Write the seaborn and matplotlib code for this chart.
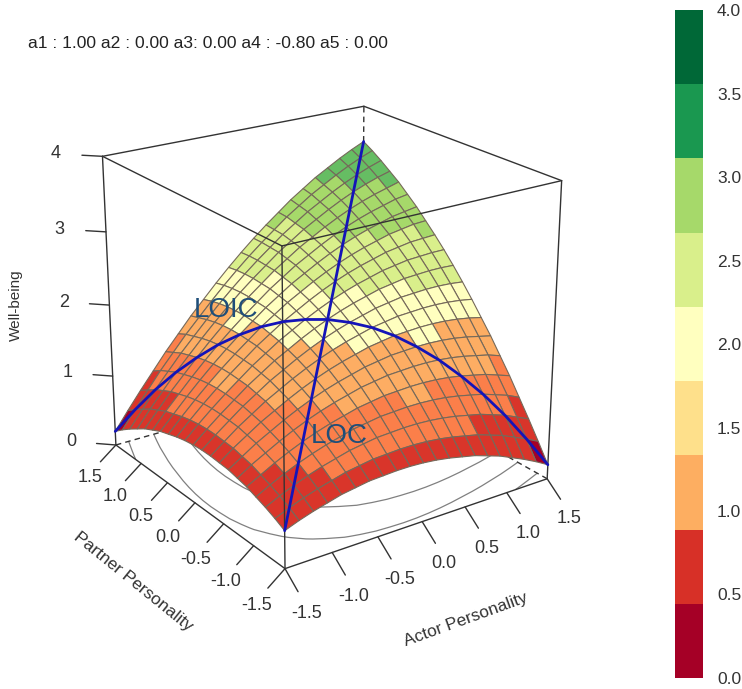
import numpy as np
import matplotlib
matplotlib.use("Agg")
import matplotlib.pyplot as plt
from matplotlib.colors import ListedColormap
from mpl_toolkits.mplot3d import proj3d
import seaborn as sns

# grid of the surface (upper triangle, the surface is symmetric)
grid_axis = [-1.5, -1.35, -1.2, -1.05, -0.9, -0.75, -0.6, -0.45, -0.3, -0.15, 0.0,
             0.15, 0.3, 0.45, 0.6, 0.75, 0.9, 1.05, 1.2, 1.35, 1.5]
surface_rows = [
    [.50, .57, .63, .68, .73, .76, .79, .80, .81, .81, .80, .78, .75, .71, .67, .61, .55, .47, .39, .30, .20],
    [.65, .72, .78, .83, .88, .91, .94, .95, .96, .96, .95, .93, .90, .86, .82, .76, .70, .62, .54, .45],
    [.80, .87, .93, .98, 1.03, 1.06, 1.09, 1.10, 1.11, 1.11, 1.10, 1.08, 1.05, 1.01, .97, .91, .85, .77, .69],
    [.95, 1.02, 1.08, 1.13, 1.18, 1.21, 1.24, 1.25, 1.26, 1.26, 1.25, 1.23, 1.20, 1.16, 1.12, 1.06, 1.00, .92],
    [1.10, 1.17, 1.23, 1.28, 1.33, 1.36, 1.39, 1.40, 1.41, 1.41, 1.40, 1.38, 1.35, 1.31, 1.27, 1.21, 1.15],
    [1.25, 1.32, 1.38, 1.43, 1.48, 1.51, 1.54, 1.55, 1.56, 1.56, 1.55, 1.53, 1.50, 1.46, 1.42, 1.36],
    [1.40, 1.47, 1.53, 1.58, 1.63, 1.66, 1.69, 1.70, 1.71, 1.71, 1.70, 1.68, 1.65, 1.61, 1.57],
    [1.55, 1.62, 1.68, 1.73, 1.78, 1.81, 1.84, 1.85, 1.86, 1.86, 1.85, 1.83, 1.80, 1.76],
    [1.70, 1.77, 1.83, 1.88, 1.93, 1.96, 1.99, 2.00, 2.01, 2.01, 2.00, 1.98, 1.95],
    [1.85, 1.92, 1.98, 2.03, 2.08, 2.11, 2.14, 2.15, 2.16, 2.16, 2.15, 2.13],
    [2.00, 2.07, 2.13, 2.18, 2.23, 2.26, 2.29, 2.30, 2.31, 2.31, 2.30],
    [2.15, 2.22, 2.28, 2.33, 2.38, 2.41, 2.44, 2.45, 2.46, 2.46],
    [2.30, 2.37, 2.43, 2.48, 2.53, 2.56, 2.59, 2.60, 2.61],
    [2.45, 2.52, 2.58, 2.63, 2.68, 2.71, 2.74, 2.75],
    [2.60, 2.67, 2.73, 2.78, 2.83, 2.86, 2.89],
    [2.75, 2.82, 2.88, 2.93, 2.98, 3.01],
    [2.90, 2.97, 3.03, 3.08, 3.13],
    [3.05, 3.12, 3.18, 3.23],
    [3.20, 3.27, 3.33],
    [3.35, 3.42],
    [3.50],
]

# colour bands
band_breaks = [0.0, 0.44, 0.89, 1.33, 1.78, 2.22, 2.67, 3.11, 3.56, 4.0]
surface_colors = ["#a50026", "#d9352a", "#fb7f4a", "#fdad63", "#ffffbf", "#d9ef8b", "#a6d96a", "#66bd63", "#1a9850"]
legend_colors = ["#a50026", "#d73027", "#fdae61", "#fee08b", "#ffffbf", "#d9ef8b", "#a6d96a", "#1a9850", "#006837"]
legend_ticks = [0.0, 0.5, 1.0, 1.5, 2.0, 2.5, 3.0, 3.5, 4.0]

xy_ticks = [-1.5, -1.0, -0.5, 0.0, 0.5, 1.0, 1.5]
z_ticks = [0, 1, 2, 3, 4]
title_text = "a1 : 1.00 a2 : 0.00 a3: 0.00 a4 : -0.80 a5 : 0.00"

sns.set_theme(style="white")
plt.rcParams["font.family"] = ["Liberation Sans", "DejaVu Sans"]
text_col = "#333333"
line_col = "#333333"
W, H = 742, 689

# build the table
Z = np.zeros((21, 21))
for j, row in enumerate(surface_rows):
    Z[j, j:] = row
    Z[j:, j] = row
axis_vals = np.array(grid_axis)
X, Y = np.meshgrid(axis_vals, axis_vals)

# colour of each facet from the mean of its corners
cell_mean = (Z[:-1, :-1] + Z[1:, :-1] + Z[:-1, 1:] + Z[1:, 1:]) / 4
cell_idx = np.digitize(cell_mean, band_breaks) - 1
palette = np.array(sns.color_palette(surface_colors))
facecols = palette[cell_idx]

fig = plt.figure(figsize=(W / 100, H / 100), dpi=100)
ax = fig.add_axes([-186 / W, -144 / H, 1000 / W, 1000 / H], projection="3d", computed_zorder=False)
ax.set_proj_type("persp", focal_length=0.35)
ax.view_init(elev=22, azim=-125)
ax.set_xlim(-1.5, 1.5)
ax.set_ylim(-1.5, 1.5)
ax.set_zlim(0, 4)
ax.set_box_aspect((1, 1, 0.99), zoom=0.535)
ax.set_axis_off()


def edge(p, q, **kw):
    kw.setdefault("color", line_col)
    kw.setdefault("lw", 1.0)
    ax.plot([p[0], q[0]], [p[1], q[1]], [p[2], q[2]], **kw)


def tick_text(x, y, z, s):
    # place the label at the projected spot of a 3d point
    px, py, _ = proj3d.proj_transform(x, y, z, ax.get_proj())
    ax.text2D(px, py, s, transform=ax.transData, color=text_col, fontsize=13, ha="center", va="center", zorder=5)


lo, hi = -1.5, 1.5
# floor contours and hidden box edges go under the surface
ax.contour(X, Y, Z, levels=band_breaks[1:5], zdir="z", offset=0, colors="#808080", linewidths=0.9, zorder=1)
edge((lo, hi, 0), (hi, hi, 0), ls=(0, (4, 3)), zorder=1)
edge((hi, lo, 0), (hi, hi, 0), ls=(0, (4, 3)), zorder=1)
edge((hi, hi, 0), (hi, hi, 4), ls=(0, (4, 3)), zorder=1)
edge((lo, hi, 4), (hi, hi, 4), zorder=1)
edge((hi, lo, 4), (hi, hi, 4), zorder=1)
edge((lo, hi, 0), (lo, hi, 4), zorder=1)
edge((hi, lo, 0), (hi, lo, 4), zorder=1)

ax.plot_surface(X, Y, Z, facecolors=facecols, rstride=1, cstride=1, shade=False,
                edgecolor="#75695a", linewidth=0.8, antialiased=True, zorder=2)

# front box edges on top
edge((lo, lo, 0), (lo, lo, 4), zorder=3)
edge((lo, lo, 4), (lo, hi, 4), zorder=3)
edge((lo, lo, 4), (hi, lo, 4), zorder=3)
edge((lo, lo, 0), (hi, lo, 0), zorder=3)
edge((lo, lo, 0), (lo, hi, 0), zorder=3)

# line of congruence and incongruence
ax.plot(axis_vals, axis_vals, np.diag(Z), color="#1414b8", lw=2.0, zorder=4)
ax.plot(axis_vals, axis_vals[::-1], np.diag(np.fliplr(Z)), color="#1414b8", lw=2.0, zorder=4)

# ticks
for t in xy_ticks:
    edge((t, lo, 0), (t, lo - 0.2, -0.18), zorder=3)
    tick_text(t, lo - 0.33, -0.38, f"{t:.1f}")
    edge((lo, t, 0), (lo - 0.18, t, -0.18), zorder=3)
    tick_text(lo - 0.30, t, -0.36, f"{t:.1f}")
for t in z_ticks:
    edge((lo, hi, t), (lo - 0.14, hi + 0.14, t), zorder=3)
    tick_text(lo - 0.32, hi + 0.32, t, str(t))

fig.text(466 / W, 1 - 620 / H, "Actor Personality", rotation=20, color=text_col, fontsize=12.4, ha="center", va="center")
fig.text(133 / W, 1 - 582 / H, "Partner Personality", rotation=-39, color=text_col, fontsize=12.5, ha="center", va="center")
fig.text(16 / W, 1 - 305 / H, "Well-being", rotation=90, color=text_col, fontsize=11, ha="center", va="center")
fig.text(28 / W, 1 - 43 / H, title_text, color="#222222", fontsize=12.6, ha="left", va="center")
fig.text(226 / W, 1 - 310 / H, "LOIC", color="#1f4e79", fontsize=20, ha="center", va="center")
fig.text(339 / W, 1 - 436 / H, "LOC", color="#1f4e79", fontsize=20, ha="center", va="center")

# colour key
cax = fig.add_axes([675 / W, 1 - 678 / H, 28 / W, 668 / H])
band_ids = np.arange(len(legend_colors))[::-1].reshape(-1, 1)
sns.heatmap(band_ids, ax=cax, cmap=ListedColormap(legend_colors), cbar=False, xticklabels=False, yticklabels=False)
key_ax = cax.twinx()
key_ax.set_ylim(0, 4)
key_ax.set_yticks(legend_ticks)
key_ax.set_yticklabels([f"{v:.1f}" for v in legend_ticks], color=text_col, fontsize=12.5)
key_ax.tick_params(axis="y", length=0, pad=10)
sns.despine(ax=key_ax, left=True, right=True, top=True, bottom=True)

fig.savefig("out.png", dpi=100)
